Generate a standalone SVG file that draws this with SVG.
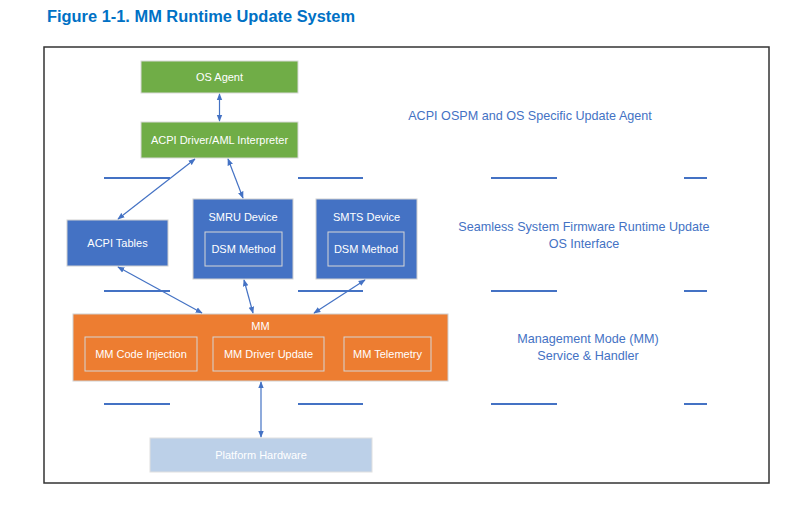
<svg xmlns="http://www.w3.org/2000/svg" width="806" height="517" viewBox="0 0 806 517">
<style>
.t{font-family:"Liberation Sans",Arial,sans-serif;font-size:11px;fill:#fff;text-anchor:middle}
.r{font-family:"Liberation Sans",Arial,sans-serif;font-size:12.6px;fill:#4472C4;text-anchor:middle}
.g{fill:#70AD47;stroke:#d9d9d9;stroke-width:1}
.b{fill:#4472C4;stroke:#d0d0d0;stroke-width:1}
.o{fill:#ED7D31;stroke:#d0d0d0;stroke-width:1}
.in{fill:none;stroke:#d6d6d6;stroke-width:1}
.p{fill:#BCD0E8;stroke:#e0e0e0;stroke-width:1}
.d{stroke:#4472C4;stroke-width:2}
.c{stroke:#4472C4;stroke-width:1.2;fill:none;marker-start:url(#a);marker-end:url(#a)}
</style>
<defs>
<marker id="a" viewBox="0 0 10 10" refX="9" refY="5" markerWidth="7" markerHeight="7" orient="auto-start-reverse" markerUnits="userSpaceOnUse">
<path d="M0,1 L10,5 L0,9 z" fill="#4472C4"/>
</marker>
</defs>
<rect width="806" height="517" fill="#fff"/>
<text x="47" y="22" font-family="Liberation Sans,Arial,sans-serif" font-weight="bold" font-size="16" fill="#0071C5" textLength="308" lengthAdjust="spacingAndGlyphs">Figure 1-1. MM Runtime Update System</text>
<rect x="44" y="47" width="725" height="436" fill="none" stroke="#333" stroke-width="1.5"/>
<g id="dashes">
<line class="d" x1="104" y1="178" x2="170" y2="178"/><line class="d" x1="298" y1="178" x2="363" y2="178"/><line class="d" x1="491" y1="178" x2="557" y2="178"/><line class="d" x1="684" y1="178" x2="707" y2="178"/>
<line class="d" x1="104" y1="291" x2="170" y2="291"/><line class="d" x1="298" y1="291" x2="363" y2="291"/><line class="d" x1="491" y1="291" x2="557" y2="291"/><line class="d" x1="684" y1="291" x2="707" y2="291"/>
<line class="d" x1="104" y1="404" x2="170" y2="404"/><line class="d" x1="298" y1="404" x2="363" y2="404"/><line class="d" x1="491" y1="404" x2="557" y2="404"/><line class="d" x1="684" y1="404" x2="707" y2="404"/>
</g>
<g id="os-agent"><rect class="g" x="141" y="61" width="157" height="32"/><text class="t" x="219.5" y="81">OS Agent</text></g>
<g id="acpi-driver"><rect class="g" x="141" y="122" width="157" height="36"/><text class="t" x="219.5" y="144">ACPI Driver/AML Interpreter</text></g>
<g id="acpi-tables"><rect class="b" x="67" y="220" width="101" height="46"/><text class="t" x="117.5" y="247">ACPI Tables</text></g>
<g id="smru"><rect class="b" x="193" y="199" width="100" height="80"/><text class="t" x="243" y="221">SMRU Device</text><rect class="in" x="205" y="232" width="77" height="34"/><text class="t" x="243.5" y="253">DSM Method</text></g>
<g id="smts"><rect class="b" x="316" y="199" width="101" height="80"/><text class="t" x="366.5" y="221">SMTS Device</text><rect class="in" x="328" y="232" width="76" height="34"/><text class="t" x="366" y="253">DSM Method</text></g>
<g id="mm"><rect class="o" x="73" y="314" width="375" height="67"/><text class="t" x="260.5" y="330">MM</text>
<rect class="in" x="85" y="337" width="112" height="34"/><text class="t" x="141" y="358">MM Code Injection</text>
<rect class="in" x="213" y="337" width="111" height="34"/><text class="t" x="268.5" y="358">MM Driver Update</text>
<rect class="in" x="344" y="337" width="87" height="34"/><text class="t" x="387.5" y="358">MM Telemetry</text></g>
<g id="platform"><rect class="p" x="150" y="438" width="222" height="34"/><text class="t" x="261" y="459">Platform Hardware</text></g>
<g id="labels">
<text class="r" x="530" y="120">ACPI OSPM and OS Specific Update Agent</text>
<text class="r" x="584" y="231">Seamless System Firmware Runtime Update</text>
<text class="r" x="584" y="248">OS Interface</text>
<text class="r" x="588" y="343">Management Mode (MM)</text>
<text class="r" x="588" y="360">Service &amp; Handler</text>
</g>
<g id="connectors">
<line class="c" x1="219.5" y1="94" x2="219.5" y2="121"/>
<line class="c" x1="195" y1="159" x2="118" y2="219"/>
<line class="c" x1="228" y1="159" x2="243" y2="198"/>
<line class="c" x1="118" y1="267" x2="202" y2="313"/>
<line class="c" x1="244" y1="280" x2="253" y2="313"/>
<line class="c" x1="365" y1="280" x2="314" y2="313"/>
<line class="c" x1="261" y1="382" x2="261" y2="437"/>
</g>
</svg>
